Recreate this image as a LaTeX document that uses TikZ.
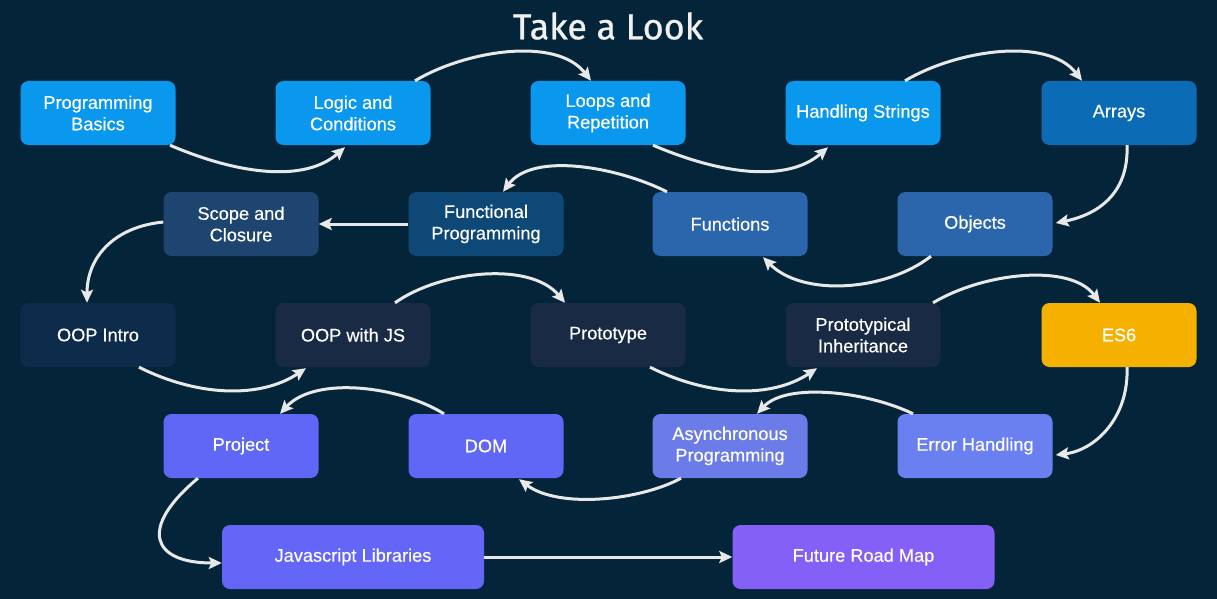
\documentclass[tikz,border=0pt]{standalone}
\usepackage{fontspec}
\setmainfont{Liberation Sans}
\newfontfamily\titlefont{Fira Sans}
\usetikzlibrary{arrows.meta}
\definecolor{bg}{HTML}{042539}
\definecolor{cA}{HTML}{0A97EE}
\definecolor{cB}{HTML}{0B6CB5}
\definecolor{cC}{HTML}{1E4470}
\definecolor{cD}{HTML}{0E4876}
\definecolor{cE}{HTML}{2B66AC}
\definecolor{cF}{HTML}{0D2C4C}
\definecolor{cG}{HTML}{182A44}
\definecolor{cH}{HTML}{F5B000}
\definecolor{cI}{HTML}{6066F5}
\definecolor{cJ}{HTML}{6B7CE8}
\definecolor{cK}{HTML}{6A80F0}
\definecolor{cL}{HTML}{6366F6}
\definecolor{cM}{HTML}{8560F6}
\definecolor{arr}{HTML}{E8E8E8}
\begin{document}
\begin{tikzpicture}[x=1pt,y=-1pt,
  box/.style={rounded corners=8pt,minimum width=155pt,minimum height=64pt,inner sep=0pt,
    align=center,text=white,font=\fontsize{18.2}{21.5}\selectfont\addfontfeature{FakeBold=0.35}},
  wide/.style={box,minimum width=262pt},
  link/.style={draw=arr,line width=3pt,-{Stealth[length=13pt,width=12pt,inset=2.5pt]}}]
\fill[bg] (0,0) rectangle (1217,599);
\useasboundingbox (0,0) rectangle (1217,599);
\node[text=white!94!black,font=\titlefont\fontsize{36}{42}\selectfont\addfontfeature{FakeBold=0.7}] (title) at (608,26) {Take a Look};
% row 1
\node[box,fill=cA] (pb) at (98,113) {Programming\\Basics};
\node[box,fill=cA] (lc) at (353,113) {Logic and\\Conditions};
\node[box,fill=cA] (lr) at (608,113) {Loops and\\Repetition};
\node[box,fill=cA] (hs) at (863,113) {Handling Strings};
\node[box,fill=cB] (ar) at (1119,113) {Arrays};
% row 2
\node[box,fill=cC] (sc) at (241,224) {Scope and\\Closure};
\node[box,fill=cD] (fp) at (486,224) {Functional\\Programming};
\node[box,fill=cE] (fn) at (730,224) {Functions};
\node[box,fill=cE] (ob) at (975,224) {Objects};
% row 3
\node[box,fill=cF] (oi) at (98,335) {OOP Intro};
\node[box,fill=cG] (oj) at (353,335) {OOP with JS};
\node[box,fill=cG] (pt) at (608,335) {Prototype};
\node[box,fill=cG] (pi) at (863,335) {Prototypical\\Inheritance};
\node[box,fill=cH] (es) at (1119,335) {ES6};
% row 4
\node[box,fill=cI] (pj) at (241,446) {Project};
\node[box,fill=cI] (dom) at (486,446) {DOM};
\node[box,fill=cJ] (as) at (730,446) {Asynchronous\\Programming};
\node[box,fill=cK] (eh) at (975,446) {Error Handling};
% row 5
\node[wide,fill=cL] (jl) at (353,557) {Javascript Libraries};
\node[wide,fill=cM] (fr) at (863.5,557) {Future Road Map};
% connectors
\draw[link] ([xshift=72pt]pb.south) .. controls +(70,30) and +(-40,35) .. ([xshift=-8pt,yshift=-2pt]lc.south);
\draw[link] ([xshift=62pt]lc.north) .. controls +(50,-30) and +(-35,-45) .. ([xshift=-17pt]lr.north);
\draw[link] ([xshift=45pt]lr.south) .. controls +(70,30) and +(-40,35) .. ([xshift=-35pt,yshift=-2pt]hs.south);
\draw[link] ([xshift=42pt]hs.north) .. controls +(50,-30) and +(-35,-45) .. ([xshift=-37pt]ar.north);
\draw[link] ([xshift=8pt]ar.south) .. controls +(2,50) and +(40,-8) .. ([xshift=3pt,yshift=1pt]ob.east);
\draw[link] ([xshift=-44pt]ob.south) .. controls +(-45,35) and +(40,40) .. ([xshift=33pt,yshift=-1pt]fn.south);
\draw[link] ([xshift=-63pt]fn.north) .. controls +(-50,-25) and +(30,-40) .. ([xshift=17pt]fp.north);
\draw[link] (fp.west) -- (sc.east);
\draw[link] ([yshift=2pt]sc.west) .. controls +(-50,5) and +(0,-45) .. ([xshift=-11pt]oi.north);
\draw[link] ([xshift=41pt]oi.south) .. controls +(60,30) and +(-45,30) .. ([xshift=-47pt,yshift=-1pt]oj.south);
\draw[link] ([xshift=42pt]oj.north) .. controls +(45,-32) and +(-35,-42) .. ([xshift=-43pt]pt.north);
\draw[link] ([xshift=42pt]pt.south) .. controls +(60,30) and +(-45,30) .. ([xshift=-46pt,yshift=-1pt]pi.south);
\draw[link] ([xshift=70pt]pi.north) .. controls +(50,-30) and +(-30,-40) .. ([xshift=-19pt]es.north);
\draw[link] ([xshift=8pt]es.south) .. controls +(2,50) and +(40,-5) .. ([xshift=3pt,yshift=-9pt]eh.east);
\draw[link] ([xshift=-62pt]eh.north) .. controls +(-45,-22) and +(30,-32) .. ([xshift=27pt]as.north);
\draw[link] ([xshift=-49pt]as.south) .. controls +(-40,22) and +(40,30) .. ([xshift=33pt,yshift=-1pt]dom.south);
\draw[link] ([xshift=-42pt]dom.north) .. controls +(-45,-28) and +(35,-38) .. ([xshift=39pt]pj.north);
\draw[link] ([xshift=-43pt]pj.south) .. controls +(-60,50) and +(-70,0) .. ([yshift=-6pt]jl.west);
\draw[link] (jl.east) -- (fr.west);
\end{tikzpicture}
\end{document}
